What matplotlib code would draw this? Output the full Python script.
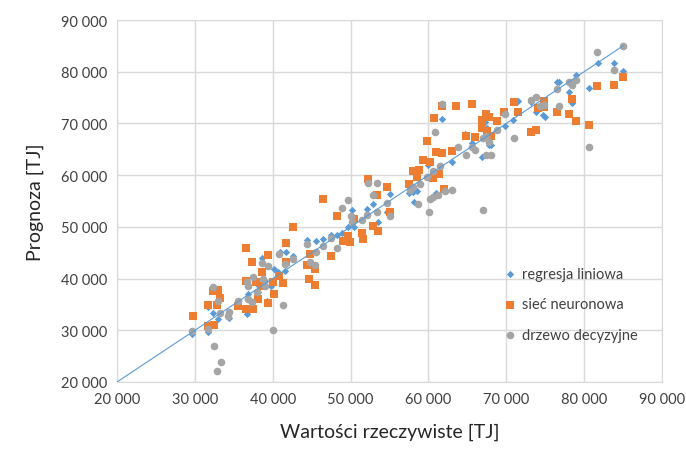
import matplotlib
matplotlib.use("Agg")
import matplotlib.pyplot as plt
from matplotlib.ticker import FuncFormatter

plt.rcParams['font.family'] = ['Lato', 'DejaVu Sans']

# regresja liniowa (x = wartość rzeczywista, y = prognoza), tys. TJ
lin_x = [29.6, 31.7, 31.7, 32.3, 33.0, 34.4, 36.7, 36.8, 38.1, 39.3, 38.6, 40.2, 40.7, 41.6,
         40.9, 41.7, 39.0, 39.8, 38.0,
         44.4, 45.6, 46.5, 47.5, 48.2, 48.9, 49.7, 50.2, 50.4, 52.1, 52.9, 53.5, 54.7, 55.1, 42.6,
         60.0, 60.6, 57.5, 58.0, 58.5, 58.2, 61.0, 61.2,
         61.7, 71.5, 73.2, 73.8, 74.7, 75.0, 76.5, 76.8, 78.0, 78.4, 78.9, 80.6, 81.8, 83.8, 85.0,
         69.8, 70.8, 64.7, 66.0, 67.3, 67.5, 67.8, 68.1, 65.6, 66.9, 63.0]
lin_y = [29.3, 29.7, 34.5, 33.3, 32.2, 32.4, 33.2, 37.0, 37.4, 35.7, 44.0, 41.9, 41.3, 41.5,
         45.1, 45.1, 39.5, 38.6, 39.0,
         47.5, 47.3, 47.7, 48.4, 48.4, 48.8, 50.0, 53.3, 50.0, 53.5, 54.4, 50.9, 52.9, 56.4, 44.4,
         62.0, 59.6, 56.6, 56.7, 56.9, 54.8, 56.6, 64.5,
         70.9, 74.3, 74.2, 72.2, 71.6, 71.3, 78.0, 78.0, 76.1, 74.0, 79.4, 76.9, 81.7, 81.7, 80.1,
         69.5, 70.7, 68.0, 67.6, 70.3, 69.1, 65.8, 65.8, 66.2, 63.5, 62.5]

# sieć neuronowa
nn_x = [36.6, 41.7, 39.4, 37.3, 38.6, 36.6, 37.8, 32.3, 33.0, 33.2, 32.8, 31.7, 29.8, 31.7,
        32.5, 35.5, 36.6, 37.5, 38.1, 39.4, 40.2, 40.8, 41.3, 41.7, 40.0, 38.6,
        52.2, 54.7, 53.4, 46.5, 48.2, 42.6, 50.4, 52.9, 53.5, 55.1, 49.0, 49.7, 49.9, 51.5, 51.6,
        47.5, 44.8, 44.4, 45.4, 44.7, 45.4,
        60.7, 59.8, 61.0, 59.3, 60.2, 58.0, 58.8, 57.5, 58.5, 60.6, 61.3,
        61.7, 63.5, 65.6, 71.0, 74.9, 74.9, 74.1, 76.5, 78.0, 78.4, 78.9, 80.6, 81.6, 83.8, 85.0,
        69.7, 71.5, 66.9, 67.8, 67.4, 68.8, 66.9, 67.5, 64.8, 66.0, 68.1, 73.2, 73.8, 63.0, 61.7,
        62.0]
nn_y = [45.9, 46.9, 44.6, 43.2, 41.3, 39.5, 39.3, 37.6, 37.8, 36.2, 34.9, 34.9, 32.8, 30.8,
        31.0, 34.7, 34.1, 34.1, 36.1, 35.3, 37.0, 40.5, 39.1, 43.2, 39.3, 38.6,
        59.3, 57.7, 56.2, 55.4, 52.1, 50.0, 51.5, 50.2, 49.2, 52.9, 47.3, 48.2, 47.1, 48.8, 47.7,
        44.4, 44.8, 42.6, 41.9, 39.9, 38.8,
        71.1, 66.6, 64.5, 62.9, 62.5, 60.8, 61.0, 58.3, 59.6, 59.4, 60.2,
        73.4, 73.4, 73.8, 74.2, 74.3, 73.2, 73.0, 72.2, 71.8, 74.7, 70.5, 69.7, 77.2, 77.4, 79.0,
        72.2, 72.2, 70.7, 71.3, 71.8, 70.5, 69.1, 68.5, 67.6, 67.4, 67.6, 68.3, 68.7, 64.7, 64.3,
        57.3]

# drzewo decyzyjne
dt_x = [32.3, 33.0, 33.2, 34.4, 34.3, 35.5, 36.8, 36.8, 37.3, 38.0, 37.5, 38.7, 38.6, 39.4,
        40.8, 41.6, 41.3, 40.0, 29.6, 31.7, 32.5, 33.4, 32.8, 36.7, 39.0,
        52.2, 53.4, 52.9, 49.7, 48.9, 50.0, 50.2, 51.5, 52.1, 53.4, 54.7, 55.1, 47.5, 48.2, 46.5,
        45.6, 44.4, 44.8, 45.4, 42.6,
        60.8, 60.6, 59.8, 58.9, 58.0, 57.6, 60.2, 60.6, 61.2, 58.7, 60.1,
        61.7, 73.2, 73.8, 74.3, 74.9, 76.8, 76.5, 78.0, 78.4, 78.9, 81.6, 83.8, 85.0, 69.8, 71.0,
        67.0, 67.4, 67.8, 65.6, 66.0, 64.8, 67.4, 68.1, 68.8, 80.6, 63.8, 61.5, 62.1, 63.0, 67.0]
dt_y = [38.4, 35.7, 33.3, 33.5, 32.8, 35.7, 38.6, 36.1, 35.5, 37.4, 40.3, 39.9, 43.0, 42.4,
        44.8, 42.8, 34.9, 30.1, 29.9, 30.3, 27.0, 23.9, 22.1, 39.3, 38.6,
        58.5, 58.5, 56.2, 55.2, 53.7, 52.1, 50.9, 51.3, 52.3, 52.9, 54.6, 52.1, 47.8, 45.9, 46.3,
        45.1, 46.7, 43.2, 42.6, 43.8,
        68.3, 60.8, 59.6, 58.3, 57.7, 57.1, 55.4, 55.8, 56.2, 54.4, 52.9,
        73.8, 74.5, 75.1, 73.4, 73.6, 73.4, 76.7, 78.0, 77.4, 78.4, 83.8, 80.3, 85.0, 71.8, 67.2,
        67.2, 67.6, 66.4, 65.4, 64.9, 63.9, 63.9, 63.9, 68.7, 65.4, 65.4, 61.8, 56.9, 57.1, 53.3]

# linia y = x
diag = [20.0, 85.0]

series_names = ['regresja liniowa', 'sieć neuronowa', 'drzewo decyzyjne']

fig = plt.figure(figsize=(6.86, 4.52), dpi=100)
ax = fig.add_axes([0.1706, 0.1527, 0.7944, 0.8008])

k = 1000
ax.scatter([v * k for v in lin_x], [v * k for v in lin_y], marker='D', s=14,
           color='#5B9BD5', linewidths=0, label=series_names[0], zorder=3)
ax.scatter([v * k for v in nn_x], [v * k for v in nn_y], marker='s', s=30,
           color='#ED7D31', linewidths=0, label=series_names[1], zorder=3)
ax.scatter([v * k for v in dt_x], [v * k for v in dt_y], marker='o', s=30,
           color='#A5A5A5', linewidths=0, label=series_names[2], zorder=3)
ax.plot([v * k for v in diag], [v * k for v in diag], color='#5B9BD5', lw=0.8, zorder=4)

ax.set_xlim(20000, 90000)
ax.set_ylim(20000, 90000)
ax.set_xticks(range(20000, 90001, 10000))
ax.set_yticks(range(20000, 90001, 10000))
fmt = FuncFormatter(lambda v, p: '{:,.0f}'.format(v).replace(',', ' '))
ax.xaxis.set_major_formatter(fmt)
ax.yaxis.set_major_formatter(fmt)
ax.tick_params(length=0, labelsize=10.5, labelcolor='#404040', pad=7)

ax.grid(True, color='#D9D9D9', lw=1)
ax.set_axisbelow(True)
for s in ax.spines.values():
    s.set_color('#D9D9D9')

ax.set_xlabel('Wartości rzeczywiste [TJ]', fontsize=14, color='#262626', labelpad=12)
ax.set_ylabel('Prognoza [TJ]', fontsize=14, color='#262626', labelpad=12)

fig.legend(loc='upper left', bbox_to_anchor=(0.714, 0.437), frameon=False,
           fontsize=10.5, labelspacing=1.15, handletextpad=0.3, handlelength=1.0,
           labelcolor='#404040')

fig.savefig('out.png', dpi=100)
